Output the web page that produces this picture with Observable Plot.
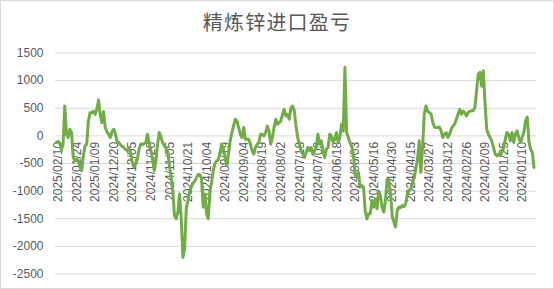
<!DOCTYPE html>
<html>
<head>
<meta charset="utf-8">
<script src="https://cdn.jsdelivr.net/npm/d3@7"></script>
<script src="https://cdn.jsdelivr.net/npm/@observablehq/plot@0.6"></script>
<style>
  html, body { margin: 0; padding: 0; background: #fff; }
  #wrap { position: relative; width: 554px; height: 289px; overflow: hidden; background: #fff; }
  #title { position: absolute; left: 0; top: 9px; width: 554px; text-align: center;
    font-family: "Noto Sans CJK SC", sans-serif; font-size: 20px; letter-spacing: 1.2px;
    color: #595959; line-height: 26px; }
  #chart { position: absolute; left: 0; top: 40px; }
  #border { position: absolute; left: 0; top: 0; width: 552px; height: 287px; border: 1px solid #d9d9d9; pointer-events: none; }
</style>
</head>
<body>
<div id="wrap">
  <div id="title">精炼锌进口盈亏</div>
  <div id="chart"></div>
  <div id="border"></div>
</div>
<script>
const title = "精炼锌进口盈亏";
// x-axis category labels (every 11th category, reverse chronological)
const tickLabels = ["2025/02/10","2025/01/24","2025/01/09","2024/12/20","2024/12/05","2024/11/20",
  "2024/11/05","2024/10/21","2024/10/04","2024/09/19","2024/09/04","2024/08/19","2024/08/02",
  "2024/07/18","2024/07/03","2024/06/18","2024/06/03","2024/05/16","2024/04/30","2024/04/15",
  "2024/03/27","2024/03/12","2024/02/26","2024/02/09","2024/01/25","2024/01/10"];
const labelStep = 11;
const categoryCount = 285;
const yTicks = [-2500, -2000, -1500, -1000, -500, 0, 500, 1000, 1500];
// import profit/loss, one value per category
const values = [
  -120,-100,-130,-260,-150,540,30,-30,120,60,
  -390,-450,-420,-440,-570,-630,-360,-180,-150,270,
  420,420,450,390,480,650,390,240,440,150,
  70,30,-30,80,120,40,-110,-120,-160,-190,
  -210,-250,-260,-240,-300,-480,-570,-510,-420,-240,
  -150,-160,-140,-120,30,-120,-270,-420,-630,-450,
  -150,60,-30,-120,-180,-230,-290,-540,-750,-1000,
  -1440,-1500,-1380,-1050,-1500,-2200,-2050,-1300,-1170,-1000,
  -920,-860,-820,-760,-700,-700,-760,-1290,-1050,-1400,
  -1500,-1000,-840,-620,-500,-450,-430,-300,-150,-240,
  -390,-540,-330,-90,60,180,300,270,150,30,
  -30,150,-60,-60,-60,-150,-270,-330,-210,-150,
  -120,30,30,0,60,180,90,-150,-30,150,
  300,210,240,270,390,480,360,390,300,510,
  540,450,180,-30,-150,-270,-330,-390,-300,-210,
  -270,-210,-330,-270,-210,30,-150,-90,-270,-390,
  -240,-210,30,0,-120,-60,60,-120,-30,210,
  90,1240,60,-30,-120,-180,-330,-700,-750,-660,
  -930,-900,-930,-1350,-1500,-1410,-1410,-1170,-1290,-1140,
  -1320,-1000,-1080,-1290,-1380,-1170,-780,-810,-1050,-1450,
  -1560,-1650,-1350,-1290,-1300,-1260,-1280,-1230,-1050,-990,
  -960,-850,-760,-600,-420,-90,-660,-210,390,540,
  450,420,400,250,160,150,150,160,90,-30,
  30,60,-30,30,120,180,210,300,390,480,
  390,450,420,360,420,450,450,460,510,820,
  1120,1150,900,1180,600,120,30,-30,-90,-210,
  -330,-360,-330,-360,-300,-210,-60,60,30,-90,
  60,-120,30,90,-30,-120,-30,60,270,340,
  -100,-240,-300,-570
];

const series = values.map((v, i) => ({i, v}));
const ticks = tickLabels.map((label, k) => ({i: k * labelStep, label}));

const plot = Plot.plot({
  width: 554,
  height: 249,
  marginLeft: 55,
  marginRight: 18,
  marginTop: 12.5,
  marginBottom: 15.5,
  style: {fontFamily: "'Liberation Sans', Arial, sans-serif", background: "transparent"},
  x: {type: "linear", domain: [-0.5, categoryCount - 0.5], axis: null},
  y: {domain: [-2500, 1500], axis: null},
  marks: [
    Plot.ruleY(yTicks, {stroke: "#d9d9d9", strokeWidth: 1}),
    Plot.axisY(yTicks, {tickSize: 0, tickPadding: 12, tickFormat: d => String(d), label: null,
      fontSize: 12, fill: "#595959", stroke: null}),
    Plot.text(ticks, {x: "i", y: () => 0, text: "label", rotate: -90, textAnchor: "end",
      dy: 6, dx: 2, fontSize: 12, fill: "#595959"}),
    Plot.line(series, {x: "i", y: "v", stroke: "#70ad47", strokeWidth: 3,
      strokeLinejoin: "round", strokeLinecap: "round"})
  ]
});
document.getElementById("chart").appendChild(plot);
</script>
</body>
</html>
